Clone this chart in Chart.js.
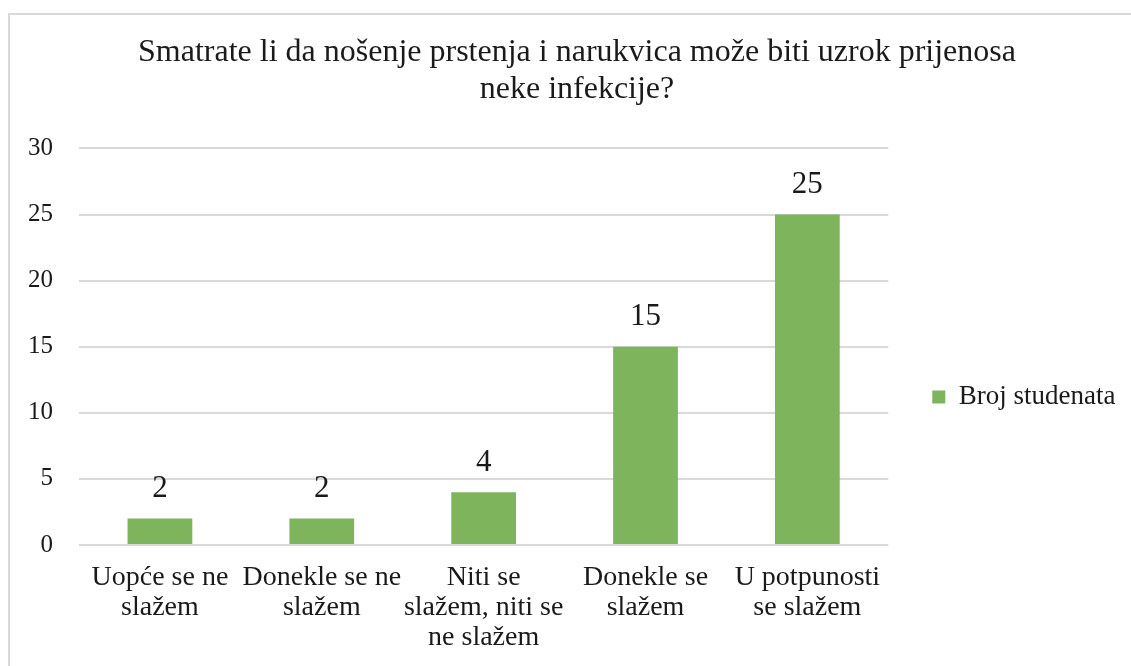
<!DOCTYPE html>
<html>
<head>
<meta charset="utf-8">
<script src="https://cdn.jsdelivr.net/npm/chart.js@4.4.1/dist/chart.umd.min.js"></script>
<style>
  html, body { margin:0; padding:0; background:#fff; overflow:hidden; }
  #frame { position:absolute; left:8px; top:13px; width:1200px; height:800px; border:2px solid #d9d9d9; box-sizing:border-box; }
  #wrap { position:absolute; left:0; top:0; width:1131px; height:666px; }
</style>
</head>
<body>
<div id="frame"></div>
<div id="wrap"><canvas id="c"></canvas></div>
<script>
const titleLines = ['Smatrate li da nošenje prstenja i narukvica može biti uzrok prijenosa', 'neke infekcije?'];
const categories = [
  ['Uopće se ne', 'slažem'],
  ['Donekle se ne', 'slažem'],
  ['Niti se', 'slažem, niti se', 'ne slažem'],
  ['Donekle se', 'slažem'],
  ['U potpunosti', 'se slažem']
];
const seriesName = 'Broj studenata';
const values = [2, 2, 4, 15, 25];
const yTicks = [0, 5, 10, 15, 20, 25, 30];

const FONT = '"Liberation Serif", "Times New Roman", serif';
const TEXT = '#1a1a1a';
const GREEN = '#7db45c';

const valueLabels = {
  id: 'valueLabels',
  afterDatasetsDraw(chart) {
    const ctx = chart.ctx;
    chart.data.datasets.forEach((ds, i) => {
      chart.getDatasetMeta(i).data.forEach((bar, j) => {
        ctx.save();
        ctx.font = '31px ' + FONT;
        ctx.fillStyle = TEXT;
        ctx.textAlign = 'center';
        ctx.textBaseline = 'alphabetic';
        ctx.fillText(String(ds.data[j]), bar.x, bar.y - 21.5);
        ctx.restore();
      });
    });
  }
};

const legendShift = {
  id: 'legendShift',
  afterLayout(chart) {
    const lg = chart.legend;
    if (lg) { lg.top += 64; lg.bottom += 64; }
  }
};

new Chart(document.getElementById('c'), {
  type: 'bar',
  data: {
    labels: categories,
    datasets: [{
      label: seriesName,
      data: values,
      backgroundColor: GREEN,
      borderWidth: 0,
      barPercentage: 0.4,
      categoryPercentage: 1.0
    }]
  },
  options: {
    responsive: true,
    maintainAspectRatio: false,
    animation: false,
    events: [],
    layout: { padding: { left: 28.5, right: 5.5, top: 0, bottom: 0 } },
    plugins: {
      tooltip: { enabled: false },
      title: {
        display: true,
        text: titleLines,
        color: TEXT,
        font: { family: FONT, size: 32, weight: 'normal', lineHeight: 1.156 },
        padding: { top: 34.5, bottom: 40 }
      },
      legend: {
        display: true,
        position: 'right',
        labels: {
          color: TEXT,
          font: { family: FONT, size: 27 },
          boxWidth: 13,
          boxHeight: 13,
          padding: 44
        }
      }
    },
    scales: {
      x: {
        grid: { display: false, drawTicks: false },
        border: { display: false },
        ticks: {
          color: TEXT,
          font: { family: FONT, size: 28, lineHeight: 1.07 },
          padding: 18,
          maxRotation: 0,
          autoSkip: false
        },
        afterFit: (s) => { s.height = 121; }
      },
      y: {
        min: 0,
        max: 30,
        afterBuildTicks: (s) => { s.ticks = yTicks.map(v => ({ value: v })); },
        grid: { color: '#d9d9d9', lineWidth: 2, drawTicks: false },
        border: { display: false },
        ticks: {
          color: TEXT,
          font: { family: FONT, size: 25 },
          padding: 26
        },
        afterFit: (s) => { s.width = 50.5; }
      }
    }
  },
  plugins: [valueLabels, legendShift]
});
</script>
</body>
</html>
